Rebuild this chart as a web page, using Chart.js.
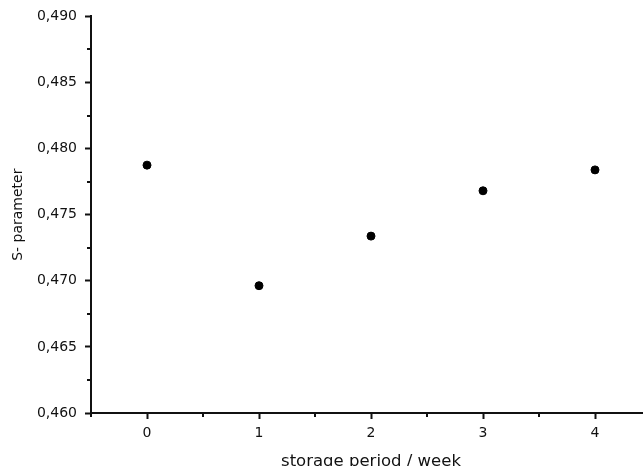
<!DOCTYPE html>
<html>
<head>
<meta charset="utf-8">
<script src="https://cdn.jsdelivr.net/npm/chart.js@4/dist/chart.umd.min.js"></script>
<style>
  html, body { margin: 0; padding: 0; background: #fff; overflow: hidden; }
  #wrap { width: 643px; height: 466px; overflow: hidden; }
</style>
</head>
<body>
<div id="wrap"><canvas id="sChart" width="660" height="480"></canvas></div>
<script>
// storage period (weeks) and measured S-parameter
var weeks = [0, 1, 2, 3, 4];
var sParam = [0.47875, 0.46963, 0.47338, 0.47681, 0.47839];

// axis ticks
var xTicks = [0, 1, 2, 3, 4];
var xMinorTicks = [-0.5, 0.5, 1.5, 2.5, 3.5, 4.5];
var yTicks = [0.460, 0.465, 0.470, 0.475, 0.480, 0.485, 0.490];
var yMinorTicks = [0.4625, 0.4675, 0.4725, 0.4775, 0.4825, 0.4875];

var ink = '#111';
var fam = '"DejaVu Sans", Verdana, sans-serif';
var axisFont = { family: fam, size: 14 };

// short outward minor ticks
var minorTicks = {
    id: 'minorTicks',
    afterDraw: function(chart) {
        var c = chart.ctx, xs = chart.scales.x, ys = chart.scales.y;
        c.save();
        c.strokeStyle = ink;
        c.lineWidth = 2;
        c.beginPath();
        xMinorTicks.forEach(function(v) {
            var px = Math.round(xs.getPixelForValue(v));
            c.moveTo(px, xs.top);
            c.lineTo(px, xs.top + 4);
        });
        yMinorTicks.forEach(function(v) {
            var py = Math.round(ys.getPixelForValue(v));
            c.moveTo(ys.right, py);
            c.lineTo(ys.right - 4, py);
        });
        c.stroke();
        c.restore();
    }
};

var ctx = document.getElementById('sChart').getContext('2d');
var sChart = new Chart(ctx, {
    type: 'scatter',
    data: {
        datasets: [{
            label: 'S-parameter',
            data: weeks.map(function(w, i) { return { x: w, y: sParam[i] }; }),
            backgroundColor: '#000',
            borderColor: '#000',
            pointRadius: 4,
            pointHoverRadius: 4
        }]
    },
    options: {
        responsive: false,
        animation: false,
        devicePixelRatio: 1,
        layout: { padding: { top: 16, right: 9, left: 0, bottom: 0 } },
        plugins: {
            legend: { display: false },
            tooltip: { enabled: false }
        },
        scales: {
            x: {
                type: 'linear',
                min: -0.5,
                max: 4.5,
                afterBuildTicks: function(s) { s.ticks = xTicks.map(function(v) { return { value: v }; }); },
                afterFit: function(s) { s.height = 67; },
                border: { display: true, color: ink, width: 2 },
                grid: { drawOnChartArea: false, drawTicks: true, tickLength: 6, tickColor: ink, tickWidth: 2 },
                ticks: { color: ink, font: axisFont, padding: 6, maxRotation: 0 },
                title: {
                    display: true,
                    text: 'storage period / week',
                    color: ink,
                    font: { family: fam, size: 16.5 },
                    padding: { top: 0, bottom: 8 }
                }
            },
            y: {
                type: 'linear',
                min: 0.460,
                max: 0.490,
                afterBuildTicks: function(s) { s.ticks = yTicks.map(function(v) { return { value: v }; }); },
                afterFit: function(s) { s.width = 91; },
                border: { display: true, color: ink, width: 2 },
                grid: { drawOnChartArea: false, drawTicks: true, tickLength: 6, tickColor: ink, tickWidth: 2 },
                ticks: {
                    color: ink,
                    font: axisFont,
                    padding: 8,
                    callback: function(v) { return v.toFixed(3).replace('.', ','); }
                },
                title: {
                    display: true,
                    text: 'S- parameter',
                    color: ink,
                    font: { family: fam, size: 14 },
                    padding: { top: 10, bottom: 0 }
                }
            }
        }
    },
    plugins: [minorTicks]
});
</script>
</body>
</html>
